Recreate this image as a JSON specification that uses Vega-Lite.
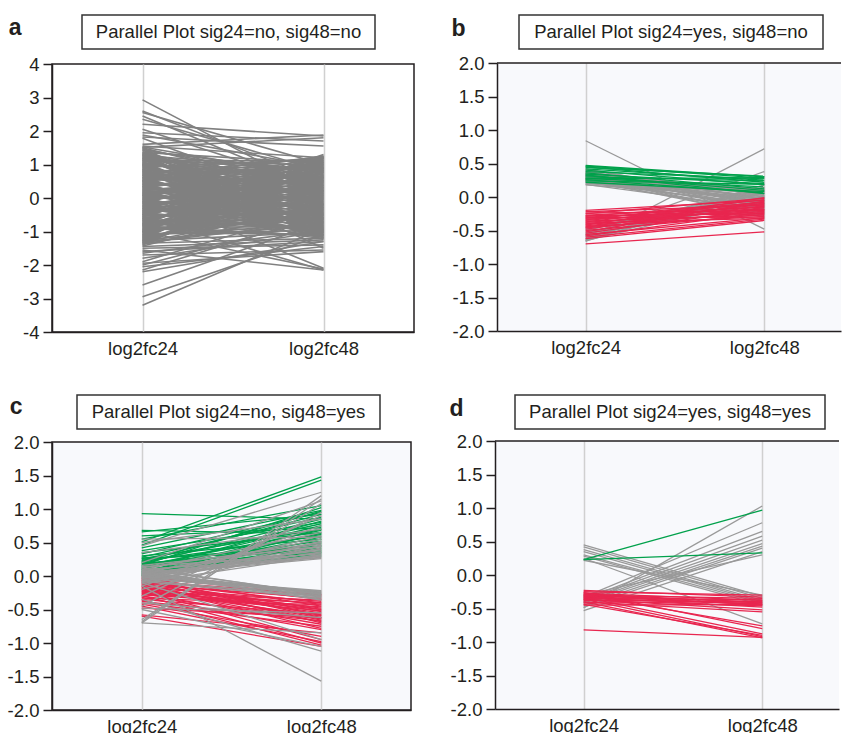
{
 "$schema": "https://vega.github.io/schema/vega-lite/v6.json",
 "padding": {"left": 6, "top": 14, "right": 0, "bottom": 0},
 "background": "white",
 "config": {
  "font": "Liberation Sans",
  "axis": {"labelFont": "Liberation Sans", "labelColor": "#231f20", "domainColor": "#231f20", "tickColor": "#231f20", "domainWidth": 1.5, "tickWidth": 1.5},
  "axisX": {"title": null, "ticks": false, "tickSize": 0, "grid": true, "gridColor": "#d0d0d0", "gridWidth": 1.5, "labelFontSize": 18.5, "labelPadding": 7, "labelAngle": 0},
  "axisY": {"title": null, "labelOverlap": false, "tickSize": 9, "labelFontSize": 18.5, "labelPadding": 4, "grid": false, "labelExpr": "replace(datum.label, '−', '-')"},
  "text": {"font": "Liberation Sans", "color": "#231f20"}
 },
 "datasets": {
  "a": [
   {"gene":1,"group":"n","log2fc24":-1.45,"log2fc48":-1.25},{"gene":2,"group":"n","log2fc24":-1.43,"log2fc48":-0.14},{"gene":3,"group":"n","log2fc24":-1.40,"log2fc48":0.98},{"gene":4,"group":"n","log2fc24":-1.38,"log2fc48":-0.43},{"gene":5,"group":"n","log2fc24":-1.35,"log2fc48":0.68},{"gene":6,"group":"n","log2fc24":-1.33,"log2fc48":-0.72},{"gene":7,"group":"n","log2fc24":-1.30,"log2fc48":0.39},{"gene":8,"group":"n","log2fc24":-1.28,"log2fc48":-1.02},{"gene":9,"group":"n","log2fc24":-1.25,"log2fc48":0.09},{"gene":10,"group":"n","log2fc24":-1.23,"log2fc48":1.21},
   {"gene":11,"group":"n","log2fc24":-1.20,"log2fc48":-0.20},{"gene":12,"group":"n","log2fc24":-1.18,"log2fc48":0.91},{"gene":13,"group":"n","log2fc24":-1.15,"log2fc48":-0.49},{"gene":14,"group":"n","log2fc24":-1.13,"log2fc48":0.62},{"gene":15,"group":"n","log2fc24":-1.10,"log2fc48":-0.79},{"gene":16,"group":"n","log2fc24":-1.08,"log2fc48":0.33},{"gene":17,"group":"n","log2fc24":-1.05,"log2fc48":-1.08},{"gene":18,"group":"n","log2fc24":-1.03,"log2fc48":0.03},{"gene":19,"group":"n","log2fc24":-1.00,"log2fc48":1.14},{"gene":20,"group":"n","log2fc24":-0.98,"log2fc48":-0.26},
   {"gene":21,"group":"n","log2fc24":-0.95,"log2fc48":0.85},{"gene":22,"group":"n","log2fc24":-0.93,"log2fc48":-0.56},{"gene":23,"group":"n","log2fc24":-0.90,"log2fc48":0.56},{"gene":24,"group":"n","log2fc24":-0.88,"log2fc48":-0.85},{"gene":25,"group":"n","log2fc24":-0.85,"log2fc48":0.26},{"gene":26,"group":"n","log2fc24":-0.83,"log2fc48":-1.15},{"gene":27,"group":"n","log2fc24":-0.80,"log2fc48":-0.03},{"gene":28,"group":"n","log2fc24":-0.78,"log2fc48":1.08},{"gene":29,"group":"n","log2fc24":-0.76,"log2fc48":-0.33},{"gene":30,"group":"n","log2fc24":-0.73,"log2fc48":0.79},
   {"gene":31,"group":"n","log2fc24":-0.71,"log2fc48":-0.62},{"gene":32,"group":"n","log2fc24":-0.68,"log2fc48":0.49},{"gene":33,"group":"n","log2fc24":-0.66,"log2fc48":-0.91},{"gene":34,"group":"n","log2fc24":-0.63,"log2fc48":0.20},{"gene":35,"group":"n","log2fc24":-0.61,"log2fc48":-1.21},{"gene":36,"group":"n","log2fc24":-0.58,"log2fc48":-0.09},{"gene":37,"group":"n","log2fc24":-0.56,"log2fc48":1.02},{"gene":38,"group":"n","log2fc24":-0.53,"log2fc48":-0.39},{"gene":39,"group":"n","log2fc24":-0.51,"log2fc48":0.72},{"gene":40,"group":"n","log2fc24":-0.48,"log2fc48":-0.68},
   {"gene":41,"group":"n","log2fc24":-0.46,"log2fc48":0.43},{"gene":42,"group":"n","log2fc24":-0.43,"log2fc48":-0.98},{"gene":43,"group":"n","log2fc24":-0.41,"log2fc48":0.14},{"gene":44,"group":"n","log2fc24":-0.38,"log2fc48":1.25},{"gene":45,"group":"n","log2fc24":-0.36,"log2fc48":-0.16},{"gene":46,"group":"n","log2fc24":-0.33,"log2fc48":0.96},{"gene":47,"group":"n","log2fc24":-0.31,"log2fc48":-0.45},{"gene":48,"group":"n","log2fc24":-0.28,"log2fc48":0.66},{"gene":49,"group":"n","log2fc24":-0.26,"log2fc48":-0.75},{"gene":50,"group":"n","log2fc24":-0.23,"log2fc48":0.37},
   {"gene":51,"group":"n","log2fc24":-0.21,"log2fc48":-1.04},{"gene":52,"group":"n","log2fc24":-0.18,"log2fc48":0.07},{"gene":53,"group":"n","log2fc24":-0.16,"log2fc48":1.19},{"gene":54,"group":"n","log2fc24":-0.13,"log2fc48":-0.22},{"gene":55,"group":"n","log2fc24":-0.11,"log2fc48":0.89},{"gene":56,"group":"n","log2fc24":-0.09,"log2fc48":-0.52},{"gene":57,"group":"n","log2fc24":-0.06,"log2fc48":0.60},{"gene":58,"group":"n","log2fc24":-0.04,"log2fc48":-0.81},{"gene":59,"group":"n","log2fc24":-0.01,"log2fc48":0.30},{"gene":60,"group":"n","log2fc24":0.01,"log2fc48":-1.10},
   {"gene":61,"group":"n","log2fc24":0.04,"log2fc48":0.01},{"gene":62,"group":"n","log2fc24":0.06,"log2fc48":1.12},{"gene":63,"group":"n","log2fc24":0.09,"log2fc48":-0.28},{"gene":64,"group":"n","log2fc24":0.11,"log2fc48":0.83},{"gene":65,"group":"n","log2fc24":0.14,"log2fc48":-0.58},{"gene":66,"group":"n","log2fc24":0.16,"log2fc48":0.54},{"gene":67,"group":"n","log2fc24":0.19,"log2fc48":-0.87},{"gene":68,"group":"n","log2fc24":0.21,"log2fc48":0.24},{"gene":69,"group":"n","log2fc24":0.24,"log2fc48":-1.17},{"gene":70,"group":"n","log2fc24":0.26,"log2fc48":-0.05},
   {"gene":71,"group":"n","log2fc24":0.29,"log2fc48":1.06},{"gene":72,"group":"n","log2fc24":0.31,"log2fc48":-0.35},{"gene":73,"group":"n","log2fc24":0.34,"log2fc48":0.77},{"gene":74,"group":"n","log2fc24":0.36,"log2fc48":-0.64},{"gene":75,"group":"n","log2fc24":0.39,"log2fc48":0.47},{"gene":76,"group":"n","log2fc24":0.41,"log2fc48":-0.94},{"gene":77,"group":"n","log2fc24":0.43,"log2fc48":0.18},{"gene":78,"group":"n","log2fc24":0.46,"log2fc48":-1.23},{"gene":79,"group":"n","log2fc24":0.48,"log2fc48":-0.12},{"gene":80,"group":"n","log2fc24":0.51,"log2fc48":1.00},
   {"gene":81,"group":"n","log2fc24":0.53,"log2fc48":-0.41},{"gene":82,"group":"n","log2fc24":0.56,"log2fc48":0.70},{"gene":83,"group":"n","log2fc24":0.58,"log2fc48":-0.70},{"gene":84,"group":"n","log2fc24":0.61,"log2fc48":0.41},{"gene":85,"group":"n","log2fc24":0.63,"log2fc48":-1.00},{"gene":86,"group":"n","log2fc24":0.66,"log2fc48":0.12},{"gene":87,"group":"n","log2fc24":0.68,"log2fc48":1.23},{"gene":88,"group":"n","log2fc24":0.71,"log2fc48":-0.18},{"gene":89,"group":"n","log2fc24":0.73,"log2fc48":0.93},{"gene":90,"group":"n","log2fc24":0.76,"log2fc48":-0.47},
   {"gene":91,"group":"n","log2fc24":0.78,"log2fc48":0.64},{"gene":92,"group":"n","log2fc24":0.81,"log2fc48":-0.77},{"gene":93,"group":"n","log2fc24":0.83,"log2fc48":0.35},{"gene":94,"group":"n","log2fc24":0.86,"log2fc48":-1.06},{"gene":95,"group":"n","log2fc24":0.88,"log2fc48":0.05},{"gene":96,"group":"n","log2fc24":0.91,"log2fc48":1.17},{"gene":97,"group":"n","log2fc24":0.93,"log2fc48":-0.24},{"gene":98,"group":"n","log2fc24":0.96,"log2fc48":0.87},{"gene":99,"group":"n","log2fc24":0.98,"log2fc48":-0.54},{"gene":100,"group":"n","log2fc24":1.01,"log2fc48":0.58},
   {"gene":101,"group":"n","log2fc24":1.03,"log2fc48":-0.83},{"gene":102,"group":"n","log2fc24":1.06,"log2fc48":0.28},{"gene":103,"group":"n","log2fc24":1.08,"log2fc48":-1.12},{"gene":104,"group":"n","log2fc24":1.11,"log2fc48":-0.01},{"gene":105,"group":"n","log2fc24":1.13,"log2fc48":1.10},{"gene":106,"group":"n","log2fc24":1.16,"log2fc48":-0.30},{"gene":107,"group":"n","log2fc24":1.18,"log2fc48":0.81},{"gene":108,"group":"n","log2fc24":1.21,"log2fc48":-0.60},{"gene":109,"group":"n","log2fc24":1.23,"log2fc48":0.51},{"gene":110,"group":"n","log2fc24":1.26,"log2fc48":-0.89},
   {"gene":111,"group":"n","log2fc24":1.28,"log2fc48":0.22},{"gene":112,"group":"n","log2fc24":1.31,"log2fc48":-1.19},{"gene":113,"group":"n","log2fc24":1.33,"log2fc48":-0.07},{"gene":114,"group":"n","log2fc24":1.36,"log2fc48":1.04},{"gene":115,"group":"n","log2fc24":1.38,"log2fc48":-0.37},{"gene":116,"group":"n","log2fc24":1.41,"log2fc48":0.75},{"gene":117,"group":"n","log2fc24":1.43,"log2fc48":-0.66},{"gene":118,"group":"n","log2fc24":1.46,"log2fc48":0.45},{"gene":119,"group":"n","log2fc24":1.48,"log2fc48":-0.96},{"gene":120,"group":"n","log2fc24":1.50,"log2fc48":0.16},
   {"gene":121,"group":"n","log2fc24":2.93,"log2fc48":0.10},{"gene":122,"group":"n","log2fc24":2.60,"log2fc48":0.50},{"gene":123,"group":"n","log2fc24":2.55,"log2fc48":1.00},{"gene":124,"group":"n","log2fc24":2.45,"log2fc48":0.20},{"gene":125,"group":"n","log2fc24":2.35,"log2fc48":0.80},{"gene":126,"group":"n","log2fc24":2.20,"log2fc48":1.85},{"gene":127,"group":"n","log2fc24":2.05,"log2fc48":0.30},{"gene":128,"group":"n","log2fc24":1.95,"log2fc48":1.70},{"gene":129,"group":"n","log2fc24":1.88,"log2fc48":0.90},{"gene":130,"group":"n","log2fc24":1.82,"log2fc48":1.55},
   {"gene":131,"group":"n","log2fc24":1.78,"log2fc48":-0.20},{"gene":132,"group":"n","log2fc24":1.60,"log2fc48":1.88},{"gene":133,"group":"n","log2fc24":1.55,"log2fc48":1.20},{"gene":134,"group":"n","log2fc24":1.52,"log2fc48":0.60},{"gene":135,"group":"n","log2fc24":1.51,"log2fc48":1.80},{"gene":136,"group":"n","log2fc24":-3.20,"log2fc48":-0.90},{"gene":137,"group":"n","log2fc24":-2.95,"log2fc48":-1.10},{"gene":138,"group":"n","log2fc24":-2.60,"log2fc48":-0.70},{"gene":139,"group":"n","log2fc24":-2.20,"log2fc48":-1.30},{"gene":140,"group":"n","log2fc24":-2.15,"log2fc48":-0.50},
   {"gene":141,"group":"n","log2fc24":-2.05,"log2fc48":-1.45},{"gene":142,"group":"n","log2fc24":-2.00,"log2fc48":-0.60},{"gene":143,"group":"n","log2fc24":-1.95,"log2fc48":-1.60},{"gene":144,"group":"n","log2fc24":-1.90,"log2fc48":-0.30},{"gene":145,"group":"n","log2fc24":-1.80,"log2fc48":-1.00},{"gene":146,"group":"n","log2fc24":-1.70,"log2fc48":-1.55},{"gene":147,"group":"n","log2fc24":-1.65,"log2fc48":-0.95},{"gene":148,"group":"n","log2fc24":-1.60,"log2fc48":-1.30},{"gene":149,"group":"n","log2fc24":-1.55,"log2fc48":-2.15},{"gene":150,"group":"n","log2fc24":-1.50,"log2fc48":-1.40},
   {"gene":151,"group":"n","log2fc24":-0.60,"log2fc48":-2.15},{"gene":152,"group":"n","log2fc24":-1.00,"log2fc48":-2.12},{"gene":153,"group":"n","log2fc24":0.10,"log2fc48":-2.10},{"gene":154,"group":"n","log2fc24":0.50,"log2fc48":1.25},{"gene":155,"group":"n","log2fc24":-0.50,"log2fc48":1.30},{"gene":156,"group":"n","log2fc24":1.00,"log2fc48":-1.50},{"gene":157,"group":"n","log2fc24":-0.80,"log2fc48":1.20},
   {"gene":158,"group":"n","log2fc24":-1.35,"log2fc48":-1.20},{"gene":159,"group":"n","log2fc24":-1.32,"log2fc48":-0.26},{"gene":160,"group":"n","log2fc24":-1.28,"log2fc48":0.68},{"gene":161,"group":"n","log2fc24":-1.25,"log2fc48":-0.80},{"gene":162,"group":"n","log2fc24":-1.21,"log2fc48":0.14},{"gene":163,"group":"n","log2fc24":-1.18,"log2fc48":1.08},{"gene":164,"group":"n","log2fc24":-1.15,"log2fc48":-0.41},{"gene":165,"group":"n","log2fc24":-1.11,"log2fc48":0.53},{"gene":166,"group":"n","log2fc24":-1.08,"log2fc48":-0.96},{"gene":167,"group":"n","log2fc24":-1.04,"log2fc48":-0.01},
   {"gene":168,"group":"n","log2fc24":-1.01,"log2fc48":0.93},{"gene":169,"group":"n","log2fc24":-0.98,"log2fc48":-0.56},{"gene":170,"group":"n","log2fc24":-0.94,"log2fc48":0.38},{"gene":171,"group":"n","log2fc24":-0.91,"log2fc48":-1.11},{"gene":172,"group":"n","log2fc24":-0.87,"log2fc48":-0.17},{"gene":173,"group":"n","log2fc24":-0.84,"log2fc48":0.78},{"gene":174,"group":"n","log2fc24":-0.81,"log2fc48":-0.71},{"gene":175,"group":"n","log2fc24":-0.77,"log2fc48":0.23},{"gene":176,"group":"n","log2fc24":-0.74,"log2fc48":1.17},{"gene":177,"group":"n","log2fc24":-0.70,"log2fc48":-0.32},
   {"gene":178,"group":"n","log2fc24":-0.67,"log2fc48":0.62},{"gene":179,"group":"n","log2fc24":-0.64,"log2fc48":-0.87},{"gene":180,"group":"n","log2fc24":-0.60,"log2fc48":0.08},{"gene":181,"group":"n","log2fc24":-0.57,"log2fc48":1.02},{"gene":182,"group":"n","log2fc24":-0.53,"log2fc48":-0.47},{"gene":183,"group":"n","log2fc24":-0.50,"log2fc48":0.47},{"gene":184,"group":"n","log2fc24":-0.47,"log2fc48":-1.02},{"gene":185,"group":"n","log2fc24":-0.43,"log2fc48":-0.08},{"gene":186,"group":"n","log2fc24":-0.40,"log2fc48":0.87},{"gene":187,"group":"n","log2fc24":-0.36,"log2fc48":-0.62},
   {"gene":188,"group":"n","log2fc24":-0.33,"log2fc48":0.32},{"gene":189,"group":"n","log2fc24":-0.30,"log2fc48":-1.17},{"gene":190,"group":"n","log2fc24":-0.26,"log2fc48":-0.23},{"gene":191,"group":"n","log2fc24":-0.23,"log2fc48":0.72},{"gene":192,"group":"n","log2fc24":-0.19,"log2fc48":-0.77},{"gene":193,"group":"n","log2fc24":-0.16,"log2fc48":0.17},{"gene":194,"group":"n","log2fc24":-0.13,"log2fc48":1.11},{"gene":195,"group":"n","log2fc24":-0.09,"log2fc48":-0.38},{"gene":196,"group":"n","log2fc24":-0.06,"log2fc48":0.56},{"gene":197,"group":"n","log2fc24":-0.02,"log2fc48":-0.93},
   {"gene":198,"group":"n","log2fc24":0.01,"log2fc48":0.02},{"gene":199,"group":"n","log2fc24":0.04,"log2fc48":0.96},{"gene":200,"group":"n","log2fc24":0.08,"log2fc48":-0.53},{"gene":201,"group":"n","log2fc24":0.11,"log2fc48":0.41},{"gene":202,"group":"n","log2fc24":0.15,"log2fc48":-1.08},{"gene":203,"group":"n","log2fc24":0.18,"log2fc48":-0.14},{"gene":204,"group":"n","log2fc24":0.21,"log2fc48":0.81},{"gene":205,"group":"n","log2fc24":0.25,"log2fc48":-0.68},{"gene":206,"group":"n","log2fc24":0.28,"log2fc48":0.26},{"gene":207,"group":"n","log2fc24":0.32,"log2fc48":1.20},
   {"gene":208,"group":"n","log2fc24":0.35,"log2fc48":-0.29},{"gene":209,"group":"n","log2fc24":0.38,"log2fc48":0.65},{"gene":210,"group":"n","log2fc24":0.42,"log2fc48":-0.84},{"gene":211,"group":"n","log2fc24":0.45,"log2fc48":0.11},{"gene":212,"group":"n","log2fc24":0.49,"log2fc48":1.05},{"gene":213,"group":"n","log2fc24":0.52,"log2fc48":-0.44},{"gene":214,"group":"n","log2fc24":0.55,"log2fc48":0.50},{"gene":215,"group":"n","log2fc24":0.59,"log2fc48":-0.99},{"gene":216,"group":"n","log2fc24":0.62,"log2fc48":-0.04},{"gene":217,"group":"n","log2fc24":0.66,"log2fc48":0.90},
   {"gene":218,"group":"n","log2fc24":0.69,"log2fc48":-0.59},{"gene":219,"group":"n","log2fc24":0.72,"log2fc48":0.35},{"gene":220,"group":"n","log2fc24":0.76,"log2fc48":-1.14},{"gene":221,"group":"n","log2fc24":0.79,"log2fc48":-0.20},{"gene":222,"group":"n","log2fc24":0.83,"log2fc48":0.75},{"gene":223,"group":"n","log2fc24":0.86,"log2fc48":-0.74},{"gene":224,"group":"n","log2fc24":0.89,"log2fc48":0.20},{"gene":225,"group":"n","log2fc24":0.93,"log2fc48":1.14},{"gene":226,"group":"n","log2fc24":0.96,"log2fc48":-0.35},{"gene":227,"group":"n","log2fc24":1.00,"log2fc48":0.59},
   {"gene":228,"group":"n","log2fc24":1.03,"log2fc48":-0.90},{"gene":229,"group":"n","log2fc24":1.06,"log2fc48":0.05},{"gene":230,"group":"n","log2fc24":1.10,"log2fc48":0.99},{"gene":231,"group":"n","log2fc24":1.13,"log2fc48":-0.50},{"gene":232,"group":"n","log2fc24":1.17,"log2fc48":0.44},{"gene":233,"group":"n","log2fc24":1.20,"log2fc48":-1.05},{"gene":234,"group":"n","log2fc24":1.23,"log2fc48":-0.11},{"gene":235,"group":"n","log2fc24":1.27,"log2fc48":0.84},{"gene":236,"group":"n","log2fc24":1.30,"log2fc48":-0.65},{"gene":237,"group":"n","log2fc24":1.34,"log2fc48":0.29}
  ],
  "b": [
   {"gene":1,"group":"n","log2fc24":0.42,"log2fc48":-0.05},{"gene":2,"group":"n","log2fc24":0.40,"log2fc48":0.02},{"gene":3,"group":"n","log2fc24":0.39,"log2fc48":-0.12},{"gene":4,"group":"n","log2fc24":0.37,"log2fc48":0.06},{"gene":5,"group":"n","log2fc24":0.36,"log2fc48":-0.20},{"gene":6,"group":"n","log2fc24":0.35,"log2fc48":-0.02},{"gene":7,"group":"n","log2fc24":0.34,"log2fc48":0.10},{"gene":8,"group":"n","log2fc24":0.33,"log2fc48":-0.15},{"gene":9,"group":"n","log2fc24":0.32,"log2fc48":0.00},{"gene":10,"group":"n","log2fc24":0.31,"log2fc48":-0.08},
   {"gene":11,"group":"n","log2fc24":0.30,"log2fc48":-0.25},{"gene":12,"group":"n","log2fc24":0.30,"log2fc48":0.04},{"gene":13,"group":"n","log2fc24":0.29,"log2fc48":-0.10},{"gene":14,"group":"n","log2fc24":0.28,"log2fc48":0.08},{"gene":15,"group":"n","log2fc24":0.28,"log2fc48":-0.18},{"gene":16,"group":"n","log2fc24":0.27,"log2fc48":-0.03},{"gene":17,"group":"n","log2fc24":0.26,"log2fc48":-0.28},{"gene":18,"group":"n","log2fc24":0.26,"log2fc48":0.12},{"gene":19,"group":"n","log2fc24":0.25,"log2fc48":-0.06},{"gene":20,"group":"n","log2fc24":0.24,"log2fc48":-0.14},
   {"gene":21,"group":"n","log2fc24":0.24,"log2fc48":0.01},{"gene":22,"group":"n","log2fc24":0.23,"log2fc48":-0.22},{"gene":23,"group":"n","log2fc24":0.22,"log2fc48":-0.04},{"gene":24,"group":"n","log2fc24":0.21,"log2fc48":-0.11},{"gene":25,"group":"n","log2fc24":0.20,"log2fc48":0.07},{"gene":26,"group":"n","log2fc24":0.19,"log2fc48":-0.17},{"gene":27,"group":"n","log2fc24":0.18,"log2fc48":-0.01},{"gene":28,"group":"n","log2fc24":0.31,"log2fc48":-0.30},{"gene":29,"group":"n","log2fc24":0.35,"log2fc48":0.09},{"gene":30,"group":"n","log2fc24":0.38,"log2fc48":-0.09},
   {"gene":31,"group":"n","log2fc24":-0.46,"log2fc48":0.05},{"gene":32,"group":"n","log2fc24":-0.50,"log2fc48":0.12},{"gene":33,"group":"n","log2fc24":-0.53,"log2fc48":0.00},{"gene":34,"group":"n","log2fc24":-0.56,"log2fc48":0.15},{"gene":35,"group":"n","log2fc24":-0.58,"log2fc48":-0.05},{"gene":36,"group":"n","log2fc24":-0.60,"log2fc48":0.08},{"gene":37,"group":"n","log2fc24":-0.62,"log2fc48":0.18},{"gene":38,"group":"n","log2fc24":-0.63,"log2fc48":0.02},{"gene":39,"group":"n","log2fc24":-0.64,"log2fc48":0.10},{"gene":40,"group":"n","log2fc24":-0.65,"log2fc48":-0.02},
   {"gene":41,"group":"n","log2fc24":-0.66,"log2fc48":0.14},{"gene":42,"group":"n","log2fc24":-0.55,"log2fc48":-0.10},{"gene":43,"group":"n","log2fc24":-0.48,"log2fc48":0.06},{"gene":44,"group":"n","log2fc24":0.84,"log2fc48":-0.48},{"gene":45,"group":"n","log2fc24":-0.66,"log2fc48":0.72},{"gene":46,"group":"n","log2fc24":-0.57,"log2fc48":0.38},
   {"gene":47,"group":"up","log2fc24":0.47,"log2fc48":0.30},{"gene":48,"group":"up","log2fc24":0.46,"log2fc48":0.28},{"gene":49,"group":"up","log2fc24":0.45,"log2fc48":0.22},{"gene":50,"group":"up","log2fc24":0.44,"log2fc48":0.31},{"gene":51,"group":"up","log2fc24":0.42,"log2fc48":0.25},{"gene":52,"group":"up","log2fc24":0.40,"log2fc48":0.18},{"gene":53,"group":"up","log2fc24":0.38,"log2fc48":0.27},{"gene":54,"group":"up","log2fc24":0.36,"log2fc48":0.12},{"gene":55,"group":"up","log2fc24":0.34,"log2fc48":0.20},{"gene":56,"group":"up","log2fc24":0.32,"log2fc48":0.10},
   {"gene":57,"group":"up","log2fc24":0.30,"log2fc48":0.24},{"gene":58,"group":"up","log2fc24":0.28,"log2fc48":0.15},{"gene":59,"group":"up","log2fc24":0.26,"log2fc48":0.06},{"gene":60,"group":"up","log2fc24":0.24,"log2fc48":0.19},{"gene":61,"group":"up","log2fc24":0.22,"log2fc48":0.08},{"gene":62,"group":"up","log2fc24":0.27,"log2fc48":0.29},{"gene":63,"group":"up","log2fc24":0.33,"log2fc48":0.05},
   {"gene":64,"group":"down","log2fc24":-0.20,"log2fc48":-0.05},{"gene":65,"group":"down","log2fc24":-0.22,"log2fc48":-0.12},{"gene":66,"group":"down","log2fc24":-0.24,"log2fc48":-0.20},{"gene":67,"group":"down","log2fc24":-0.25,"log2fc48":-0.02},{"gene":68,"group":"down","log2fc24":-0.27,"log2fc48":-0.15},{"gene":69,"group":"down","log2fc24":-0.28,"log2fc48":-0.25},{"gene":70,"group":"down","log2fc24":-0.29,"log2fc48":-0.08},{"gene":71,"group":"down","log2fc24":-0.30,"log2fc48":-0.18},{"gene":72,"group":"down","log2fc24":-0.31,"log2fc48":-0.30},{"gene":73,"group":"down","log2fc24":-0.32,"log2fc48":-0.10},
   {"gene":74,"group":"down","log2fc24":-0.33,"log2fc48":-0.22},{"gene":75,"group":"down","log2fc24":-0.34,"log2fc48":-0.04},{"gene":76,"group":"down","log2fc24":-0.35,"log2fc48":-0.14},{"gene":77,"group":"down","log2fc24":-0.36,"log2fc48":-0.27},{"gene":78,"group":"down","log2fc24":-0.37,"log2fc48":-0.07},{"gene":79,"group":"down","log2fc24":-0.38,"log2fc48":-0.19},{"gene":80,"group":"down","log2fc24":-0.39,"log2fc48":-0.32},{"gene":81,"group":"down","log2fc24":-0.40,"log2fc48":-0.11},{"gene":82,"group":"down","log2fc24":-0.41,"log2fc48":-0.24},{"gene":83,"group":"down","log2fc24":-0.42,"log2fc48":-0.01},
   {"gene":84,"group":"down","log2fc24":-0.43,"log2fc48":-0.16},{"gene":85,"group":"down","log2fc24":-0.44,"log2fc48":-0.29},{"gene":86,"group":"down","log2fc24":-0.45,"log2fc48":-0.09},{"gene":87,"group":"down","log2fc24":-0.46,"log2fc48":-0.21},{"gene":88,"group":"down","log2fc24":-0.48,"log2fc48":-0.13},{"gene":89,"group":"down","log2fc24":-0.50,"log2fc48":-0.26},{"gene":90,"group":"down","log2fc24":-0.52,"log2fc48":-0.06},{"gene":91,"group":"down","log2fc24":-0.54,"log2fc48":-0.18},{"gene":92,"group":"down","log2fc24":-0.56,"log2fc48":-0.31},{"gene":93,"group":"down","log2fc24":-0.58,"log2fc48":-0.23},
   {"gene":94,"group":"down","log2fc24":-0.60,"log2fc48":-0.33},{"gene":95,"group":"down","log2fc24":-0.62,"log2fc48":-0.35},{"gene":96,"group":"down","log2fc24":-0.70,"log2fc48":-0.52}
  ],
  "c": [
   {"gene":1,"group":"n","log2fc24":0.05,"log2fc48":0.30},{"gene":2,"group":"n","log2fc24":0.03,"log2fc48":0.35},{"gene":3,"group":"n","log2fc24":0.02,"log2fc48":0.28},{"gene":4,"group":"n","log2fc24":0.00,"log2fc48":0.40},{"gene":5,"group":"n","log2fc24":-0.02,"log2fc48":0.32},{"gene":6,"group":"n","log2fc24":-0.04,"log2fc48":0.45},{"gene":7,"group":"n","log2fc24":0.08,"log2fc48":0.38},{"gene":8,"group":"n","log2fc24":0.10,"log2fc48":0.27},{"gene":9,"group":"n","log2fc24":0.12,"log2fc48":0.50},{"gene":10,"group":"n","log2fc24":-0.06,"log2fc48":0.36},
   {"gene":11,"group":"n","log2fc24":-0.08,"log2fc48":0.42},{"gene":12,"group":"n","log2fc24":0.06,"log2fc48":0.48},{"gene":13,"group":"n","log2fc24":0.04,"log2fc48":0.55},{"gene":14,"group":"n","log2fc24":-0.10,"log2fc48":0.30},{"gene":15,"group":"n","log2fc24":0.14,"log2fc48":0.33},{"gene":16,"group":"n","log2fc24":-0.12,"log2fc48":0.52},{"gene":17,"group":"n","log2fc24":0.01,"log2fc48":0.26},{"gene":18,"group":"n","log2fc24":-0.03,"log2fc48":0.60},{"gene":19,"group":"n","log2fc24":0.09,"log2fc48":0.65},{"gene":20,"group":"n","log2fc24":-0.15,"log2fc48":0.75},
   {"gene":21,"group":"n","log2fc24":0.50,"log2fc48":0.85},{"gene":22,"group":"n","log2fc24":0.45,"log2fc48":1.25},{"gene":23,"group":"n","log2fc24":-0.68,"log2fc48":1.20},{"gene":24,"group":"n","log2fc24":-0.70,"log2fc48":1.15},{"gene":25,"group":"n","log2fc24":-0.65,"log2fc48":1.08},{"gene":26,"group":"n","log2fc24":-0.45,"log2fc48":0.95},{"gene":27,"group":"n","log2fc24":-0.30,"log2fc48":0.90},{"gene":28,"group":"n","log2fc24":0.20,"log2fc48":1.12},{"gene":29,"group":"n","log2fc24":0.35,"log2fc48":0.70},{"gene":30,"group":"n","log2fc24":0.55,"log2fc48":0.58},
   {"gene":31,"group":"n","log2fc24":-0.20,"log2fc48":0.46},{"gene":32,"group":"n","log2fc24":0.16,"log2fc48":0.44},{"gene":33,"group":"n","log2fc24":0.04,"log2fc48":-0.24},{"gene":34,"group":"n","log2fc24":0.02,"log2fc48":-0.27},{"gene":35,"group":"n","log2fc24":0.00,"log2fc48":-0.25},{"gene":36,"group":"n","log2fc24":-0.02,"log2fc48":-0.29},{"gene":37,"group":"n","log2fc24":0.06,"log2fc48":-0.30},{"gene":38,"group":"n","log2fc24":-0.04,"log2fc48":-0.23},{"gene":39,"group":"n","log2fc24":0.08,"log2fc48":-0.32},{"gene":40,"group":"n","log2fc24":0.10,"log2fc48":-0.26},
   {"gene":41,"group":"n","log2fc24":-0.06,"log2fc48":-0.31},{"gene":42,"group":"n","log2fc24":0.12,"log2fc48":-0.28},{"gene":43,"group":"n","log2fc24":-0.08,"log2fc48":-0.33},{"gene":44,"group":"n","log2fc24":0.03,"log2fc48":-0.35},{"gene":45,"group":"n","log2fc24":-0.01,"log2fc48":-0.22},{"gene":46,"group":"n","log2fc24":0.07,"log2fc48":-0.36},{"gene":47,"group":"n","log2fc24":0.05,"log2fc48":-0.27},{"gene":48,"group":"n","log2fc24":-0.70,"log2fc48":-0.85},{"gene":49,"group":"n","log2fc24":-0.15,"log2fc48":-1.57},{"gene":50,"group":"n","log2fc24":-0.35,"log2fc48":-1.12},
   {"gene":51,"group":"n","log2fc24":-0.50,"log2fc48":-1.05},{"gene":52,"group":"n","log2fc24":-0.40,"log2fc48":-0.62},{"gene":53,"group":"n","log2fc24":-0.10,"log2fc48":-0.95},{"gene":54,"group":"n","log2fc24":-0.48,"log2fc48":-0.55},
   {"gene":55,"group":"down","log2fc24":0.00,"log2fc48":-0.30},{"gene":56,"group":"down","log2fc24":-0.02,"log2fc48":-0.45},{"gene":57,"group":"down","log2fc24":-0.03,"log2fc48":-0.62},{"gene":58,"group":"down","log2fc24":-0.05,"log2fc48":-0.35},{"gene":59,"group":"down","log2fc24":-0.06,"log2fc48":-0.70},{"gene":60,"group":"down","log2fc24":-0.08,"log2fc48":-0.50},{"gene":61,"group":"down","log2fc24":-0.09,"log2fc48":-0.40},{"gene":62,"group":"down","log2fc24":-0.10,"log2fc48":-0.58},{"gene":63,"group":"down","log2fc24":-0.12,"log2fc48":-0.33},{"gene":64,"group":"down","log2fc24":-0.13,"log2fc48":-0.66},
   {"gene":65,"group":"down","log2fc24":-0.14,"log2fc48":-0.48},{"gene":66,"group":"down","log2fc24":-0.15,"log2fc48":-0.78},{"gene":67,"group":"down","log2fc24":-0.17,"log2fc48":-0.38},{"gene":68,"group":"down","log2fc24":-0.18,"log2fc48":-0.55},{"gene":69,"group":"down","log2fc24":-0.19,"log2fc48":-0.68},{"gene":70,"group":"down","log2fc24":-0.20,"log2fc48":-0.42},{"gene":71,"group":"down","log2fc24":-0.22,"log2fc48":-0.60},{"gene":72,"group":"down","log2fc24":-0.23,"log2fc48":-0.95},{"gene":73,"group":"down","log2fc24":-0.24,"log2fc48":-0.36},{"gene":74,"group":"down","log2fc24":-0.25,"log2fc48":-0.52},
   {"gene":75,"group":"down","log2fc24":-0.26,"log2fc48":-0.72},{"gene":76,"group":"down","log2fc24":-0.28,"log2fc48":-0.46},{"gene":77,"group":"down","log2fc24":-0.29,"log2fc48":-1.00},{"gene":78,"group":"down","log2fc24":-0.30,"log2fc48":-0.64},{"gene":79,"group":"down","log2fc24":-0.32,"log2fc48":-0.80},{"gene":80,"group":"down","log2fc24":-0.33,"log2fc48":-0.43},{"gene":81,"group":"down","log2fc24":-0.35,"log2fc48":-0.57},{"gene":82,"group":"down","log2fc24":-0.36,"log2fc48":-1.03},{"gene":83,"group":"down","log2fc24":-0.38,"log2fc48":-0.67},{"gene":84,"group":"down","log2fc24":-0.40,"log2fc48":-0.75},
   {"gene":85,"group":"down","log2fc24":-0.42,"log2fc48":-0.90},{"gene":86,"group":"down","log2fc24":-0.45,"log2fc48":-0.98},{"gene":87,"group":"down","log2fc24":-0.48,"log2fc48":-0.62},{"gene":88,"group":"down","log2fc24":-0.58,"log2fc48":-0.85},{"gene":89,"group":"down","log2fc24":-0.60,"log2fc48":-1.05},{"gene":90,"group":"down","log2fc24":-0.07,"log2fc48":-0.28},{"gene":91,"group":"down","log2fc24":-0.11,"log2fc48":-0.53},{"gene":92,"group":"down","log2fc24":-0.16,"log2fc48":-0.63},{"gene":93,"group":"down","log2fc24":-0.21,"log2fc48":-0.50},{"gene":94,"group":"down","log2fc24":-0.27,"log2fc48":-0.40},
   {"gene":95,"group":"down","log2fc24":-0.04,"log2fc48":-0.59},
   {"gene":96,"group":"up","log2fc24":0.93,"log2fc48":0.85},{"gene":97,"group":"up","log2fc24":0.68,"log2fc48":0.63},{"gene":98,"group":"up","log2fc24":0.66,"log2fc48":0.92},{"gene":99,"group":"up","log2fc24":0.60,"log2fc48":0.72},{"gene":100,"group":"up","log2fc24":0.55,"log2fc48":1.05},{"gene":101,"group":"up","log2fc24":0.51,"log2fc48":1.48},{"gene":102,"group":"up","log2fc24":0.46,"log2fc48":1.43},{"gene":103,"group":"up","log2fc24":0.42,"log2fc48":0.98},{"gene":104,"group":"up","log2fc24":0.38,"log2fc48":0.80},{"gene":105,"group":"up","log2fc24":0.35,"log2fc48":0.65},
   {"gene":106,"group":"up","log2fc24":0.33,"log2fc48":0.95},{"gene":107,"group":"up","log2fc24":0.30,"log2fc48":0.55},{"gene":108,"group":"up","log2fc24":0.28,"log2fc48":0.88},{"gene":109,"group":"up","log2fc24":0.26,"log2fc48":0.70},{"gene":110,"group":"up","log2fc24":0.25,"log2fc48":0.45},{"gene":111,"group":"up","log2fc24":0.23,"log2fc48":0.92},{"gene":112,"group":"up","log2fc24":0.22,"log2fc48":0.60},{"gene":113,"group":"up","log2fc24":0.20,"log2fc48":0.78},{"gene":114,"group":"up","log2fc24":0.19,"log2fc48":0.40},{"gene":115,"group":"up","log2fc24":0.18,"log2fc48":0.85},
   {"gene":116,"group":"up","log2fc24":0.17,"log2fc48":0.52},{"gene":117,"group":"up","log2fc24":0.15,"log2fc48":0.68},{"gene":118,"group":"up","log2fc24":0.14,"log2fc48":0.35},{"gene":119,"group":"up","log2fc24":0.13,"log2fc48":0.75},{"gene":120,"group":"up","log2fc24":0.12,"log2fc48":0.48},{"gene":121,"group":"up","log2fc24":0.11,"log2fc48":0.62},{"gene":122,"group":"up","log2fc24":0.10,"log2fc48":0.30},{"gene":123,"group":"up","log2fc24":0.09,"log2fc48":0.82},{"gene":124,"group":"up","log2fc24":0.08,"log2fc48":0.42},{"gene":125,"group":"up","log2fc24":0.07,"log2fc48":0.58},
   {"gene":126,"group":"up","log2fc24":0.06,"log2fc48":0.70},{"gene":127,"group":"up","log2fc24":0.05,"log2fc48":0.38},{"gene":128,"group":"up","log2fc24":0.04,"log2fc48":0.50},{"gene":129,"group":"up","log2fc24":0.03,"log2fc48":0.33},{"gene":130,"group":"up","log2fc24":0.02,"log2fc48":0.64},{"gene":131,"group":"up","log2fc24":0.01,"log2fc48":0.45},{"gene":132,"group":"up","log2fc24":0.00,"log2fc48":0.55},{"gene":133,"group":"up","log2fc24":0.16,"log2fc48":1.02},{"gene":134,"group":"up","log2fc24":0.21,"log2fc48":0.97},{"gene":135,"group":"up","log2fc24":0.27,"log2fc48":0.36}
  ],
  "d": [
   {"gene":1,"group":"n","log2fc24":0.45,"log2fc48":-0.32},{"gene":2,"group":"n","log2fc24":0.42,"log2fc48":-0.35},{"gene":3,"group":"n","log2fc24":0.38,"log2fc48":-0.38},{"gene":4,"group":"n","log2fc24":0.35,"log2fc48":-0.40},{"gene":5,"group":"n","log2fc24":0.30,"log2fc48":-0.42},{"gene":6,"group":"n","log2fc24":0.28,"log2fc48":-0.45},{"gene":7,"group":"n","log2fc24":0.25,"log2fc48":-0.73},{"gene":8,"group":"n","log2fc24":0.22,"log2fc48":-0.30},
   {"gene":9,"group":"n","log2fc24":-0.30,"log2fc48":0.30},{"gene":10,"group":"n","log2fc24":-0.33,"log2fc48":0.78},{"gene":11,"group":"n","log2fc24":-0.36,"log2fc48":0.65},{"gene":12,"group":"n","log2fc24":-0.38,"log2fc48":0.58},{"gene":13,"group":"n","log2fc24":-0.40,"log2fc48":0.52},{"gene":14,"group":"n","log2fc24":-0.42,"log2fc48":0.47},{"gene":15,"group":"n","log2fc24":-0.45,"log2fc48":0.43},{"gene":16,"group":"n","log2fc24":-0.48,"log2fc48":0.40},{"gene":17,"group":"n","log2fc24":-0.49,"log2fc48":1.03},{"gene":18,"group":"n","log2fc24":-0.53,"log2fc48":0.35},
   {"gene":19,"group":"up","log2fc24":0.23,"log2fc48":0.97},{"gene":20,"group":"up","log2fc24":0.23,"log2fc48":0.33},
   {"gene":21,"group":"down","log2fc24":-0.25,"log2fc48":-0.30},{"gene":22,"group":"down","log2fc24":-0.27,"log2fc48":-0.38},{"gene":23,"group":"down","log2fc24":-0.28,"log2fc48":-0.42},{"gene":24,"group":"down","log2fc24":-0.29,"log2fc48":-0.45},{"gene":25,"group":"down","log2fc24":-0.30,"log2fc48":-0.35},{"gene":26,"group":"down","log2fc24":-0.31,"log2fc48":-0.40},{"gene":27,"group":"down","log2fc24":-0.32,"log2fc48":-0.44},{"gene":28,"group":"down","log2fc24":-0.33,"log2fc48":-0.48},{"gene":29,"group":"down","log2fc24":-0.34,"log2fc48":-0.37},{"gene":30,"group":"down","log2fc24":-0.35,"log2fc48":-0.43},
   {"gene":31,"group":"down","log2fc24":-0.36,"log2fc48":-0.52},{"gene":32,"group":"down","log2fc24":-0.37,"log2fc48":-0.41},{"gene":33,"group":"down","log2fc24":-0.38,"log2fc48":-0.46},{"gene":34,"group":"down","log2fc24":-0.40,"log2fc48":-0.55},{"gene":35,"group":"down","log2fc24":-0.42,"log2fc48":-0.39},{"gene":36,"group":"down","log2fc24":-0.30,"log2fc48":-0.76},{"gene":37,"group":"down","log2fc24":-0.33,"log2fc48":-0.88},{"gene":38,"group":"down","log2fc24":-0.36,"log2fc48":-0.92},{"gene":39,"group":"down","log2fc24":-0.40,"log2fc48":-0.94},{"gene":40,"group":"down","log2fc24":-0.44,"log2fc48":-0.90},
   {"gene":41,"group":"down","log2fc24":-0.26,"log2fc48":-0.80},{"gene":42,"group":"down","log2fc24":-0.82,"log2fc48":-0.93},{"gene":43,"group":"down","log2fc24":-0.45,"log2fc48":-0.44},{"gene":44,"group":"down","log2fc24":-0.23,"log2fc48":-0.33}
  ]
 },
 "vconcat": [
  {"hconcat": [
   {"vconcat": [
    {"hconcat": [
     {"width": 1, "height": 34, "view": {"stroke": null}, "data": {"values": [{}]}, "mark": {"type": "text", "text": "a", "fontSize": 23, "fontWeight": "bold", "align": "right", "baseline": "alphabetic", "dx": -31, "dy": 3}, "encoding": {}},
     {"width": 293, "height": 34, "view": {"stroke": "#333333", "strokeWidth": 1.5}, "data": {"values": [{}]}, "mark": {"type": "text", "text": "Parallel Plot sig24=no, sig48=no", "fontSize": 18.5}, "encoding": {}}
    ], "spacing": 28},
    {"width": 362, "height": 268, "view": {"fill": "#ffffff", "stroke": "#231f20", "strokeWidth": 1.5},
     "data": {"name": "a"},
     "transform": [{"fold": ["log2fc24", "log2fc48"], "as": ["time", "value"]}],
     "mark": {"type": "line", "color": "#808080", "strokeWidth": 1.6},
     "encoding": {
      "x": {"field": "time", "type": "nominal", "scale": {"type": "point", "padding": 0.5}},
      "y": {"field": "value", "type": "quantitative", "scale": {"domain": [-4, 4]}, "axis": {"values": [-4, -3, -2, -1, 0, 1, 2, 3, 4], "format": "d"}},
      "detail": {"field": "gene"}
     }}
   ], "spacing": 4},
   {"vconcat": [
    {"hconcat": [
     {"width": 1, "height": 34, "view": {"stroke": null}, "data": {"values": [{}]}, "mark": {"type": "text", "text": "b", "fontSize": 23, "fontWeight": "bold", "align": "right", "baseline": "alphabetic", "dx": -32, "dy": 4}, "encoding": {}},
     {"width": 304, "height": 34, "view": {"stroke": "#333333", "strokeWidth": 1.5}, "data": {"values": [{}]}, "mark": {"type": "text", "text": "Parallel Plot sig24=yes, sig48=no", "fontSize": 18.5}, "encoding": {}}
    ], "spacing": 20},
    {"width": 344, "height": 268, "view": {"fill": "#f8f9fc", "stroke": null},
     "data": {"name": "b"},
     "transform": [{"fold": ["log2fc24", "log2fc48"], "as": ["time", "value"]}],
     "layer": [
      {"transform": [{"filter": "datum.group === 'n'"}],
       "mark": {"type": "line", "color": "#999999", "strokeWidth": 1.3},
       "encoding": {
        "x": {"field": "time", "type": "nominal", "scale": {"type": "point", "padding": 0.463, "align": 0.536}},
        "y": {"field": "value", "type": "quantitative", "scale": {"domain": [-2, 2]}, "axis": {"values": [-2, -1.5, -1, -0.5, 0, 0.5, 1, 1.5, 2], "format": ".1f"}},
        "detail": {"field": "gene"}
       }},
      {"transform": [{"filter": "datum.group !== 'n'"}],
       "mark": {"type": "line", "strokeWidth": 1.3},
       "encoding": {
        "x": {"field": "time", "type": "nominal", "scale": {"type": "point", "padding": 0.463, "align": 0.536}},
        "y": {"field": "value", "type": "quantitative", "scale": {"domain": [-2, 2]}, "axis": {"values": [-2, -1.5, -1, -0.5, 0, 0.5, 1, 1.5, 2], "format": ".1f"}},
        "color": {"field": "group", "type": "nominal", "scale": {"domain": ["up", "down"], "range": ["#00a14b", "#e8264f"]}, "legend": null},
        "detail": {"field": "gene"}
       }},
      {"data": {"values": [{}]}, "mark": {"type": "rule", "color": "#231f20", "strokeWidth": 1.5}, "encoding": {"y": {"datum": 2, "type": "quantitative", "scale": {"domain": [-2, 2]}, "axis": {"values": [-2, -1.5, -1, -0.5, 0, 0.5, 1, 1.5, 2], "format": ".1f"}}}}
     ]}
   ], "spacing": 4}
  ], "spacing": 36},
  {"hconcat": [
   {"vconcat": [
    {"hconcat": [
     {"width": 1, "height": 34, "view": {"stroke": null}, "data": {"values": [{}]}, "mark": {"type": "text", "text": "c", "fontSize": 23, "fontWeight": "bold", "align": "right", "baseline": "alphabetic", "dx": -30, "dy": 2}, "encoding": {}},
     {"width": 303, "height": 34, "view": {"stroke": "#333333", "strokeWidth": 1.5}, "data": {"values": [{}]}, "mark": {"type": "text", "text": "Parallel Plot sig24=no, sig48=yes", "fontSize": 18.5}, "encoding": {}}
    ], "spacing": 23},
    {"width": 359, "height": 268, "view": {"fill": "#f8f9fc", "stroke": "#231f20", "strokeWidth": 1.5},
     "data": {"name": "c"},
     "transform": [{"fold": ["log2fc24", "log2fc48"], "as": ["time", "value"]}],
     "layer": [
      {"transform": [{"filter": "datum.group !== 'n'"}],
       "mark": {"type": "line", "strokeWidth": 1.3},
       "encoding": {
        "x": {"field": "time", "type": "nominal", "scale": {"type": "point", "padding": 0.5}},
        "y": {"field": "value", "type": "quantitative", "scale": {"domain": [-2, 2]}, "axis": {"values": [-2, -1.5, -1, -0.5, 0, 0.5, 1, 1.5, 2], "format": ".1f"}},
        "color": {"field": "group", "type": "nominal", "scale": {"domain": ["up", "down"], "range": ["#00a14b", "#e8264f"]}, "legend": null},
        "detail": {"field": "gene"}
       }},
      {"transform": [{"filter": "datum.group === 'n'"}],
       "mark": {"type": "line", "color": "#999999", "strokeWidth": 1.3},
       "encoding": {
        "x": {"field": "time", "type": "nominal", "scale": {"type": "point", "padding": 0.5}},
        "y": {"field": "value", "type": "quantitative", "scale": {"domain": [-2, 2]}, "axis": {"values": [-2, -1.5, -1, -0.5, 0, 0.5, 1, 1.5, 2], "format": ".1f"}},
        "detail": {"field": "gene"}
       }}
     ]}
   ], "spacing": 2},
   {"vconcat": [
    {"hconcat": [
     {"width": 1, "height": 34, "view": {"stroke": null}, "data": {"values": [{}]}, "mark": {"type": "text", "text": "d", "fontSize": 23, "fontWeight": "bold", "align": "right", "baseline": "alphabetic", "dx": -32, "dy": 4}, "encoding": {}},
     {"width": 310, "height": 34, "view": {"stroke": "#333333", "strokeWidth": 1.5}, "data": {"values": [{}]}, "mark": {"type": "text", "text": "Parallel Plot sig24=yes, sig48=yes", "fontSize": 18.5}, "encoding": {}}
    ], "spacing": 18},
    {"width": 344, "height": 268, "view": {"fill": "#f8f9fc", "stroke": null},
     "data": {"name": "d"},
     "transform": [{"fold": ["log2fc24", "log2fc48"], "as": ["time", "value"]}],
     "layer": [
      {"transform": [{"filter": "datum.group === 'n'"}],
       "mark": {"type": "line", "color": "#999999", "strokeWidth": 1.3},
       "encoding": {
        "x": {"field": "time", "type": "nominal", "scale": {"type": "point", "padding": 0.463, "align": 0.536}},
        "y": {"field": "value", "type": "quantitative", "scale": {"domain": [-2, 2]}, "axis": {"values": [-2, -1.5, -1, -0.5, 0, 0.5, 1, 1.5, 2], "format": ".1f"}},
        "detail": {"field": "gene"}
       }},
      {"transform": [{"filter": "datum.group !== 'n'"}],
       "mark": {"type": "line", "strokeWidth": 1.3},
       "encoding": {
        "x": {"field": "time", "type": "nominal", "scale": {"type": "point", "padding": 0.463, "align": 0.536}},
        "y": {"field": "value", "type": "quantitative", "scale": {"domain": [-2, 2]}, "axis": {"values": [-2, -1.5, -1, -0.5, 0, 0.5, 1, 1.5, 2], "format": ".1f"}},
        "color": {"field": "group", "type": "nominal", "scale": {"domain": ["up", "down"], "range": ["#00a14b", "#e8264f"]}, "legend": null},
        "detail": {"field": "gene"}
       }},
      {"data": {"values": [{}]}, "mark": {"type": "rule", "color": "#231f20", "strokeWidth": 1.5}, "encoding": {"y": {"datum": 2, "type": "quantitative", "scale": {"domain": [-2, 2]}, "axis": {"values": [-2, -1.5, -1, -0.5, 0, 0.5, 1, 1.5, 2], "format": ".1f"}}}}
     ]}
   ], "spacing": 2}
  ], "spacing": 37}
 ],
 "spacing": 35
}
